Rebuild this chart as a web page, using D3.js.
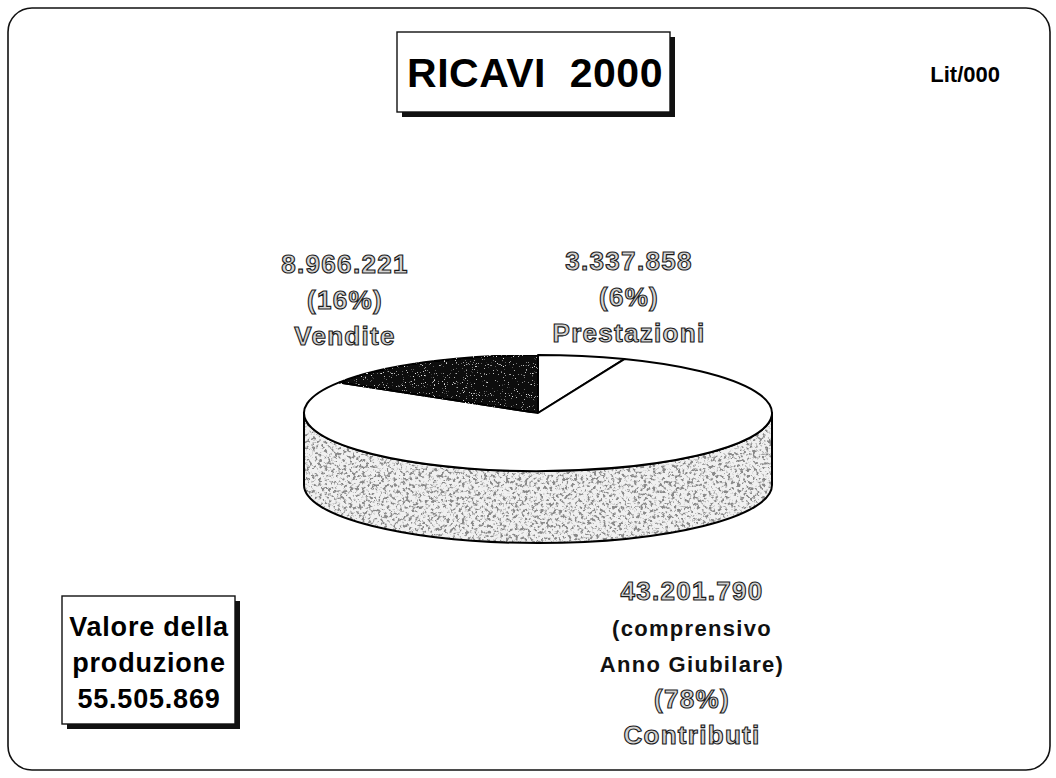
<!DOCTYPE html>
<html>
<head>
<meta charset="utf-8">
<script src="https://cdn.jsdelivr.net/npm/d3@7"></script>
<style>
  body { margin: 0; background: #fff; }
  svg { display: block; }
</style>
</head>
<body>
<div id="chart"></div>
<script>
// data (Lit/000)
var categories = ["Prestazioni", "Contributi", "Vendite"];
var values = [3337858, 43201790, 8966221];
var notes = [[], ["(comprensivo", "Anno Giubilare)"], []];
var title = "RICAVI  2000";
var unit = "Lit/000";
var totalCaption = ["Valore della", "produzione"];

var width = 1056, height = 778;

var it = d3.formatLocale({ decimal: ",", thousands: ".", grouping: [3], currency: ["", ""] });
var fmt = it.format(",d");
var total = d3.sum(values);

var svg = d3.select("#chart")
    .append("svg")
    .attr("width", width)
    .attr("height", height);

// speckled textures (side of the pie, dark slice)
var defs = svg.append("defs");
function speckle(id, freq, oct, seed, rgb, a, b) {
    var f = defs.append("filter").attr("id", id)
        .attr("x", 0).attr("y", 0).attr("width", "100%").attr("height", "100%");
    f.append("feTurbulence").attr("type", "fractalNoise").attr("baseFrequency", freq)
        .attr("numOctaves", oct).attr("seed", seed).attr("result", "noise");
    f.append("feColorMatrix").attr("in", "noise").attr("type", "matrix")
        .attr("values", "0 0 0 0 " + rgb + "  0 0 0 0 " + rgb + "  0 0 0 0 " + rgb + "  " + a + " 0 0 0 " + b)
        .attr("result", "dots");
    f.append("feComposite").attr("in", "dots").attr("in2", "SourceGraphic")
        .attr("operator", "in").attr("result", "clipped");
    var m = f.append("feMerge");
    m.append("feMergeNode").attr("in", "SourceGraphic");
    m.append("feMergeNode").attr("in", "clipped");
}
speckle("speckle", "0.32", 4, 7, 0.25, 6, -3.0);
speckle("speckleDark", "0.9", 2, 3, 0.8, 8, -5.4);

// outer rounded frame
svg.append("rect")
    .attr("x", 8).attr("y", 8)
    .attr("width", 1042).attr("height", 762)
    .attr("rx", 24)
    .attr("fill", "none")
    .attr("stroke", "#111")
    .attr("stroke-width", 1.6);

// boxes with drop shadow
function shadowBox(x, y, w, h) {
    svg.append("rect").attr("x", x + 5).attr("y", y + 5)
        .attr("width", w).attr("height", h).attr("fill", "#111");
    svg.append("rect").attr("x", x).attr("y", y)
        .attr("width", w).attr("height", h)
        .attr("fill", "#fff").attr("stroke", "#111").attr("stroke-width", 1.4);
}

shadowBox(397, 32, 273, 80);
svg.append("text")
    .attr("x", 535).attr("y", 87)
    .attr("text-anchor", "middle")
    .style("font-family", "Liberation Sans, Arial, sans-serif")
    .style("font-weight", "bold")
    .style("font-size", "41px")
    .style("letter-spacing", "0.5px")
    .style("white-space", "pre")
    .attr("fill", "#000")
    .text(title);

svg.append("text")
    .attr("x", 1000).attr("y", 82)
    .attr("text-anchor", "end")
    .style("font-family", "Liberation Sans, Arial, sans-serif")
    .style("font-weight", "bold")
    .style("font-size", "22px")
    .attr("fill", "#000")
    .text(unit);

shadowBox(62, 596, 173, 128);
var tl = totalCaption.concat([fmt(total)]);
svg.selectAll("text.tot")
    .data(tl)
    .enter()
    .append("text")
    .attr("class", "tot")
    .attr("x", 149)
    .attr("y", function (d, i) { return 636 + i * 36; })
    .attr("text-anchor", "middle")
    .style("font-family", "Liberation Sans, Arial, sans-serif")
    .style("font-weight", "bold")
    .style("font-size", "27px")
    .style("letter-spacing", "0.8px")
    .attr("fill", "#000")
    .text(function (d) { return d; });

// 3D pie
var cx = 538, cy = 413, rx = 234, ry = 58, depth = 72;

var pie = d3.pie().sort(null).value(function (d) { return d; });
var arcs = pie(values);

function pt(a, dy) {
    return [cx + rx * Math.sin(a), cy - ry * Math.cos(a) + (dy || 0)];
}

function topPath(d) {
    var p0 = pt(d.startAngle), p1 = pt(d.endAngle);
    var large = (d.endAngle - d.startAngle) > Math.PI ? 1 : 0;
    return "M" + cx + "," + cy + "L" + p0 + "A" + rx + "," + ry + " 0 " + large + " 1 " + p1 + "Z";
}

function sidePath(d) {
    var a0 = Math.max(d.startAngle, Math.PI / 2);
    var a1 = Math.min(d.endAngle, Math.PI * 1.5);
    if (a1 <= a0) return null;
    var p0 = pt(a0), p1 = pt(a1), q1 = pt(a1, depth), q0 = pt(a0, depth);
    return "M" + p0 + "A" + rx + "," + ry + " 0 0 1 " + p1 +
        "L" + q1 + "A" + rx + "," + ry + " 0 0 0 " + q0 + "Z";
}

var topFill = ["#fff", "#fff", "#0c0c0c"];
var sides = arcs.filter(function (d) { return sidePath(d); });

svg.selectAll("path.side")
    .data(sides)
    .enter()
    .append("path")
    .attr("class", "side")
    .attr("d", sidePath)
    .attr("fill", "#f0f0f0")
    .attr("filter", "url(#speckle)");

svg.selectAll("path.sideline")
    .data(sides)
    .enter()
    .append("path")
    .attr("class", "sideline")
    .attr("d", sidePath)
    .attr("fill", "none")
    .attr("stroke", "#000")
    .attr("stroke-width", 2)
    .attr("stroke-linejoin", "round");

svg.selectAll("path.top")
    .data(arcs)
    .enter()
    .append("path")
    .attr("class", "top")
    .attr("d", topPath)
    .attr("fill", function (d, i) { return topFill[i]; })
    .attr("filter", function (d, i) { return i == 2 ? "url(#speckleDark)" : null; })
    .attr("stroke", "#000")
    .attr("stroke-width", 2)
    .attr("stroke-linejoin", "round");

// labels
var labelPos = [[629, 270], [692, 600], [345, 273]];

function outlined(x, y, t) {
    svg.append("text")
        .attr("x", x).attr("y", y)
        .attr("text-anchor", "middle")
        .style("font-family", "Liberation Sans, Arial, sans-serif")
        .style("font-weight", "bold")
        .style("font-size", "26px")
        .style("letter-spacing", "1.3px")
        .attr("fill", "#d4d4d4")
        .attr("stroke", "#1a1a1a")
        .attr("stroke-width", 1.1)
        .text(t);
}

arcs.forEach(function (d, i) {
    var x = labelPos[i][0], y = labelPos[i][1];
    var pct = "(" + Math.round(100 * d.data / total) + "%)";
    outlined(x, y, fmt(d.data));
    var yy = y;
    notes[i].forEach(function (n, k) {
        yy = y + 36 + k * 36;
        svg.append("text")
            .attr("x", x).attr("y", yy)
            .attr("text-anchor", "middle")
            .style("font-family", "Liberation Sans, Arial, sans-serif")
            .style("font-weight", "bold")
            .style("font-size", "22px")
            .style("letter-spacing", "1.3px")
            .attr("fill", "#111")
            .text(n);
    });
    outlined(x, yy + 36, pct);
    outlined(x, yy + 72, categories[i]);
});
</script>
</body>
</html>
